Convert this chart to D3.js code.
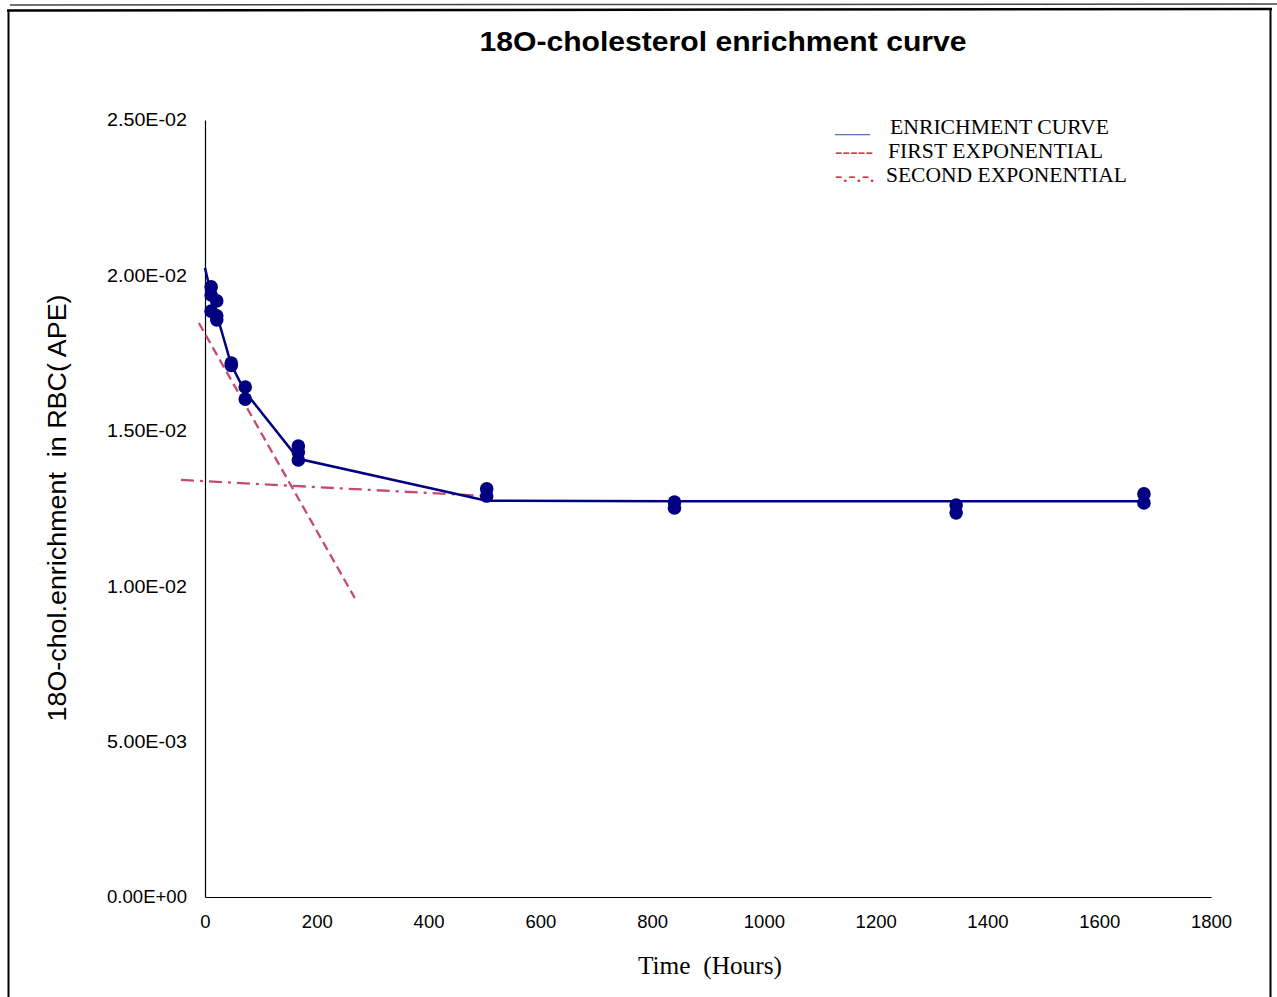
<!DOCTYPE html>
<html>
<head>
<meta charset="utf-8">
<script src="https://cdn.jsdelivr.net/npm/d3@7"></script>
<style>
html,body{margin:0;padding:0;background:#fff;}
svg{display:block;}
</style>
</head>
<body>
<svg id="chart" width="1277" height="997"></svg>
<script>
// ---- data ----
const xTicks = [0, 200, 400, 600, 800, 1000, 1200, 1400, 1600, 1800];
const yTicks = [0, 0.005, 0.01, 0.015, 0.02, 0.025];
const yTickLabels = ["0.00E+00", "5.00E-03", "1.00E-02", "1.50E-02", "2.00E-02", "2.50E-02"];

// measured samples (hours, APE)
const sampleTimes  = [11, 11, 11, 21, 21, 21, 47, 47, 72, 72, 167, 167, 167, 504, 504, 840, 840, 1344, 1344, 1680, 1680];
const sampleValues = [0.01963, 0.01937, 0.01885, 0.01918, 0.01870, 0.01857, 0.01718, 0.01710, 0.01641, 0.01602,
                      0.01451, 0.01432, 0.01406, 0.01313, 0.01290, 0.01271, 0.01252, 0.01261, 0.01236, 0.01297, 0.01268];

// enrichment curve
const curveTimes  = [0, 11, 21, 47, 72, 167, 504, 840, 1344, 1680];
const curveValues = [0.02024, 0.01940, 0.01875, 0.01712, 0.01625, 0.01410, 0.01275, 0.01273, 0.01273, 0.01273];

// first exponential (dashed)
const firstExpTimes  = [-11, 268];
const firstExpValues = [0.01847, 0.00962];

// second exponential (dash-dot)
const secondExpTimes  = [-43, 504];
const secondExpValues = [0.01342, 0.01290];

const legendMarks  = ["___", "-----", "-.-.-."];
const legendLabels = ["ENRICHMENT CURVE", "FIRST EXPONENTIAL", "SECOND EXPONENTIAL"];

// ---- drawing ----
const svg = d3.select("#chart");
const x = d3.scaleLinear().domain([0, 1800]).range([205, 1211]);
const y = d3.scaleLinear().domain([0, 0.025]).range([897, 120]);

// frame
svg.append("line").attr("x1", 10).attr("x2", 1277).attr("y1", 5).attr("y2", 4).attr("stroke", "#444").attr("stroke-width", 1.5);
svg.append("line").attr("x1", 7).attr("x2", 1272).attr("y1", 10.5).attr("y2", 9).attr("stroke", "#000").attr("stroke-width", 2.5);
svg.append("line").attr("x1", 8.5).attr("x2", 8.5).attr("y1", 10).attr("y2", 997).attr("stroke", "#000").attr("stroke-width", 2);
svg.append("line").attr("x1", 1270.5).attr("x2", 1270.5).attr("y1", 9).attr("y2", 997).attr("stroke", "#000").attr("stroke-width", 2);

// title
svg.append("text").attr("x", 723).attr("y", 51).attr("text-anchor", "middle")
  .attr("font-family", "Liberation Sans, Arial, sans-serif").attr("font-weight", "bold").attr("font-size", 28)
  .attr("textLength", 487).attr("lengthAdjust", "spacingAndGlyphs")
  .attr("fill", "#000").text("18O-cholesterol enrichment curve");

// axes
const xAxis = d3.axisBottom(x).tickValues(xTicks).tickSize(0).tickPadding(18).tickFormat(d3.format("d"));
const gx = svg.append("g").attr("transform", "translate(0,897)").call(xAxis);
gx.select(".domain").attr("stroke", "#000").attr("stroke-width", 1.2);
gx.selectAll("text").attr("font-family", "Liberation Sans, Arial, sans-serif").attr("font-size", 18.5).attr("fill", "#000");

const yAxis = d3.axisLeft(y).tickValues(yTicks).tickSize(0).tickPadding(18)
  .tickFormat((d, i) => yTickLabels[i]);
const gy = svg.append("g").attr("transform", "translate(205,0)").call(yAxis);
gy.select(".domain").attr("stroke", "#000").attr("stroke-width", 1.2);
gy.selectAll("text").attr("font-family", "Liberation Sans, Arial, sans-serif").attr("font-size", 18.5)
  .attr("textLength", 80).attr("lengthAdjust", "spacingAndGlyphs").attr("fill", "#000");

// axis titles
svg.append("text").attr("x", 710).attr("y", 974).attr("text-anchor", "middle")
  .attr("font-family", "Liberation Serif, Times New Roman, serif").attr("font-size", 25)
  .attr("textLength", 144).attr("lengthAdjust", "spacingAndGlyphs")
  .attr("fill", "#000").attr("xml:space", "preserve").text("Time  (Hours)");
svg.append("text").attr("transform", "translate(66,508) rotate(-90)").attr("text-anchor", "middle")
  .attr("font-family", "Liberation Sans, Arial, sans-serif").attr("font-size", 26)
  .attr("textLength", 427).attr("lengthAdjust", "spacingAndGlyphs")
  .attr("fill", "#000").attr("xml:space", "preserve").text("18O-chol.enrichment  in RBC( APE)");

// exponentials
const line = d3.line().x(d => x(d[0])).y(d => y(d[1]));
svg.append("path").datum(firstExpTimes.map((t, i) => [t, firstExpValues[i]]))
  .attr("d", line).attr("fill", "none").attr("stroke", "#c44a72").attr("stroke-width", 2.3)
  .attr("stroke-dasharray", "9,5");
svg.append("path").datum(secondExpTimes.map((t, i) => [t, secondExpValues[i]]))
  .attr("d", line).attr("fill", "none").attr("stroke", "#c44a72").attr("stroke-width", 2.3)
  .attr("stroke-dasharray", "13,6,3,6");

// enrichment curve
svg.append("path").datum(curveTimes.map((t, i) => [t, curveValues[i]]))
  .attr("d", line).attr("fill", "none").attr("stroke", "#000080").attr("stroke-width", 2.5);

// markers
svg.append("g").selectAll("circle").data(sampleTimes.map((t, i) => [t, sampleValues[i]]))
  .join("circle").attr("cx", d => x(d[0])).attr("cy", d => y(d[1])).attr("r", 6.8)
  .attr("fill", "#000080");

// legend
const legMarkColors = ["#4f78b8", "#d03a3a", "#d03a3a"];
const legMarkLen = [35, 38, 40];
const legY = [134, 158, 182];
const legLabelX = [890, 888, 886];
const legLabelLen = [219, 215, 241];
legendMarks.forEach((m, i) => {
  svg.append("text").attr("x", 835).attr("y", legY[i] - (i === 0 ? 2 : 0))
    .attr("font-family", "Liberation Serif, Times New Roman, serif").attr("font-size", 21)
    .attr("textLength", legMarkLen[i]).attr("lengthAdjust", "spacingAndGlyphs")
    .attr("fill", legMarkColors[i]).text(m);
  svg.append("text").attr("x", legLabelX[i]).attr("y", legY[i])
    .attr("font-family", "Liberation Serif, Times New Roman, serif").attr("font-size", 21)
    .attr("textLength", legLabelLen[i]).attr("lengthAdjust", "spacingAndGlyphs")
    .attr("fill", "#000").text(legendLabels[i]);
});
</script>
</body>
</html>
